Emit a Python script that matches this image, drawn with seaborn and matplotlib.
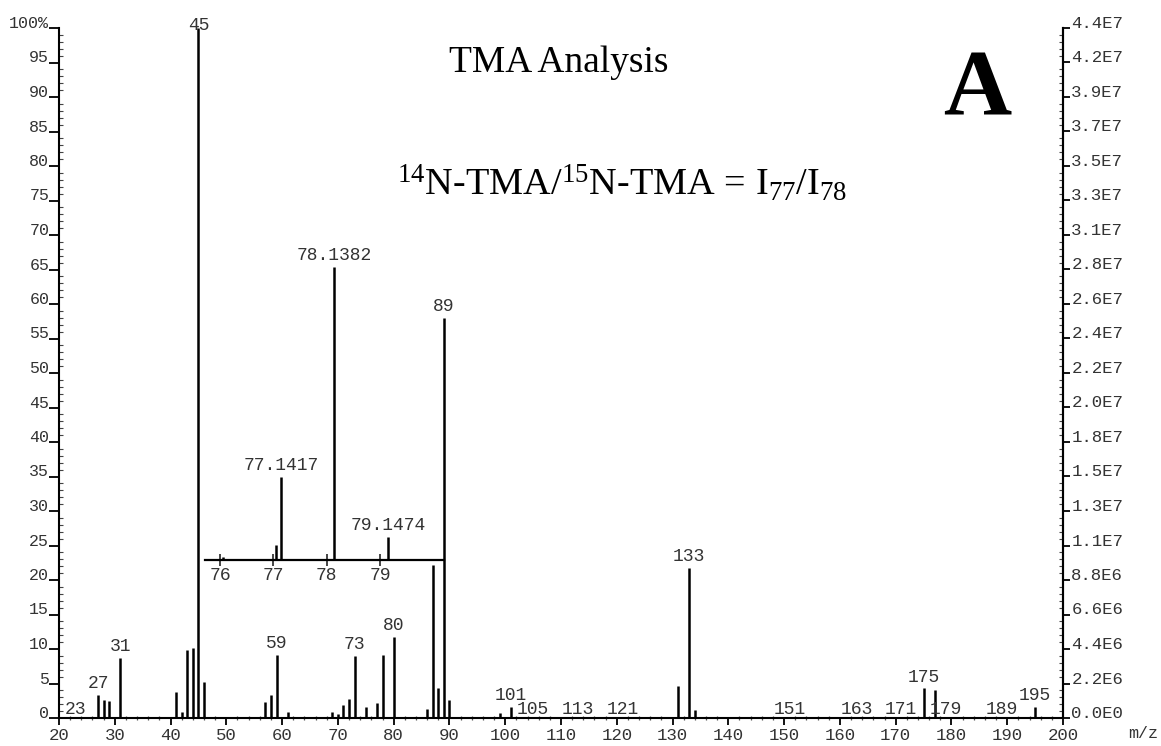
import matplotlib
matplotlib.use("Agg")
import matplotlib.pyplot as plt
import seaborn as sns
import pandas as pd
from matplotlib.ticker import MultipleLocator

# ---------------- data ----------------
mz = [23, 27, 28, 29, 31, 41, 42, 43, 44, 45, 46, 57, 58, 59, 61, 69, 70, 71, 72,
      73, 75, 77, 78, 80, 86, 87, 88, 89, 90, 99, 101, 105, 113, 121, 131, 133,
      134, 151, 163, 171, 175, 177, 179, 189, 195]
rel_abundance = [0.2, 3.3, 2.6, 2.5, 8.7, 3.8, 0.8, 9.9, 10.1, 100.0, 5.2, 2.3, 3.4,
                 9.2, 0.9, 0.8, 0.6, 1.9, 2.7, 9.0, 1.6, 2.2, 9.1, 11.8, 1.3, 22.2,
                 4.3, 58.0, 2.6, 0.7, 1.6, 0.2, 0.2, 0.2, 4.6, 21.7, 1.2, 0.2, 0.2,
                 0.2, 4.3, 4.0, 0.2, 0.2, 1.6]
labeled_mz = [23, 27, 31, 45, 59, 73, 80, 89, 101, 105, 113, 121, 133, 151, 163,
              171, 175, 179, 189, 195]

inset_mz = [76.05, 77.05, 77.1417, 78.1382, 79.1474]
inset_intensity = [1.0, 5.1, 28.3, 100.0, 7.8]
inset_labeled = ["77.1417", "78.1382", "79.1474"]
inset_ticks = [76, 77, 78, 79]

left_ticks = list(range(0, 101, 5))
left_tick_labels = [str(v) for v in left_ticks[:-1]] + ["100%"]
right_tick_labels = ["0.0E0", "2.2E6", "4.4E6", "6.6E6", "8.8E6", "1.1E7", "1.3E7",
                     "1.5E7", "1.8E7", "2.0E7", "2.2E7", "2.4E7", "2.6E7", "2.8E7",
                     "3.1E7", "3.3E7", "3.5E7", "3.7E7", "3.9E7", "4.2E7", "4.4E7"]
x_ticks = list(range(20, 201, 10))

title = "TMA Analysis"
formula = r"$^{14}$N-TMA/$^{15}$N-TMA = I$_{77}$/I$_{78}$"
panel = "A"

# ---------------- style ----------------
sns.set_theme(style="ticks")
plt.rcParams["font.family"] = ["Liberation Mono", "DejaVu Sans Mono"]
plt.rcParams["mathtext.fontset"] = "custom"
plt.rcParams["mathtext.rm"] = "Liberation Serif"
plt.rcParams["mathtext.it"] = "Liberation Serif:italic"
plt.rcParams["mathtext.bf"] = "Liberation Serif:bold"

TXT = "#333333"
MONO = "Liberation Mono"
SERIF = "Liberation Serif"

df = pd.DataFrame({"mz": mz, "abund": rel_abundance})
dfi = pd.DataFrame({"mz": inset_mz, "abund": inset_intensity})

W, H = 1161, 746
fig = plt.figure(figsize=(W / 100, H / 100), dpi=100)
fig.patch.set_facecolor("white")
ax = fig.add_axes([59 / W, (H - 718) / H, (1063 - 59) / W, (718 - 28) / H])
ax.set_facecolor("none")

ax.vlines(df["mz"], 0, df["abund"], color="black", lw=1.8, clip_on=False)
ax.set_xlim(20, 200)
ax.set_ylim(0, 100)

for m, a in zip(df["mz"], df["abund"]):
    if m in labeled_mz:
        off = 2 if a >= 0.5 else -1
        if m == 45:
            off = -4
        ax.annotate(str(m), (m, a), xytext=(0, off), textcoords="offset points",
                    ha="center", va="bottom", fontsize=13, family=MONO, color=TXT,
                    annotation_clip=False)

sns.despine(ax=ax, top=True, right=False, left=False, bottom=False)
for s in ["left", "bottom", "right"]:
    ax.spines[s].set_linewidth(1.5)
    ax.spines[s].set_color("black")

ax.set_xticks(x_ticks)
ax.set_xticklabels([str(v) for v in x_ticks], fontsize=12.5, family=MONO, color=TXT)
ax.xaxis.set_minor_locator(MultipleLocator(2))
ax.tick_params(axis="x", which="major", direction="out", length=5, width=1.3,
               pad=2, color="black")
ax.tick_params(axis="x", which="minor", direction="inout", length=3, width=0.9,
               color="#555555")

ax.set_yticks(left_ticks)
ax.set_yticklabels(left_tick_labels, fontsize=12, family=MONO, color=TXT)
for lbl in ax.get_yticklabels():
    lbl.set_verticalalignment("baseline")
ax.yaxis.set_minor_locator(MultipleLocator(1))
ax.tick_params(axis="y", which="major", direction="out", length=7, width=1.3,
               pad=0, color="black")
ax.tick_params(axis="y", which="minor", direction="in", length=3, width=0.8,
               color="#444444")
ax.grid(False)

ax2 = ax.twinx()
ax2.set_ylim(0, 100)
ax2.set_yticks(left_ticks)
ax2.set_yticklabels(right_tick_labels, fontsize=12.5, family=MONO, color=TXT)
for lbl in ax2.get_yticklabels():
    lbl.set_verticalalignment("baseline")
ax2.yaxis.set_minor_locator(MultipleLocator(1))
ax2.tick_params(axis="y", which="major", direction="out", length=5, width=1.3,
                pad=1, color="black")
ax2.tick_params(axis="y", which="minor", direction="in", length=3, width=0.8,
                color="#444444")
for s in ["left", "bottom", "top"]:
    ax2.spines[s].set_visible(False)
ax2.spines["right"].set_linewidth(1.5)
ax2.spines["right"].set_color("black")
ax2.grid(False)

# ---------------- inset ----------------
ins = ax.inset_axes([46.2, 22.9, 89 - 46.2, 42.5], transform=ax.transData)
ins.set_facecolor("none")
ins.vlines(dfi["mz"], 0, dfi["abund"], color="black", lw=1.8, clip_on=False)
ins.set_xlim(75.72, 80.2)
ins.set_ylim(0, 100)
for s in ["left", "right", "top"]:
    ins.spines[s].set_visible(False)
ins.spines["bottom"].set_linewidth(1.6)
ins.spines["bottom"].set_color("black")
ins.set_yticks([])
ins.set_xticks(inset_ticks)
ins.set_xticklabels([str(v) for v in inset_ticks], fontsize=13, family=MONO, color=TXT)
ins.tick_params(axis="x", direction="inout", length=8, width=1.2, pad=1)
ins.grid(False)
for m, a in zip(dfi["mz"], dfi["abund"]):
    s = f"{m:.4f}"
    if s in inset_labeled:
        ins.annotate(s, (m, a), xytext=(0, 2), textcoords="offset points",
                     ha="center", va="bottom", fontsize=13, family=MONO, color=TXT,
                     annotation_clip=False)

# ---------------- texts ----------------
fig.text(559 / W, 1 - 63 / H, title, ha="center", va="center", fontsize=27,
         family=SERIF, color="black")
fig.text(622 / W, 1 - 183 / H, formula, ha="center", va="center", fontsize=27.5,
         family=SERIF, color="black")
fig.text(977 / W, 1 - 92 / H, panel, ha="center", va="center", fontsize=68,
         family=SERIF, fontweight="bold", color="black")
fig.text(1143 / W, 1 - 733 / H, "m/z", ha="center", va="center", fontsize=12,
         family=MONO, color=TXT)

fig.savefig("out.png", dpi=100, facecolor="white")
